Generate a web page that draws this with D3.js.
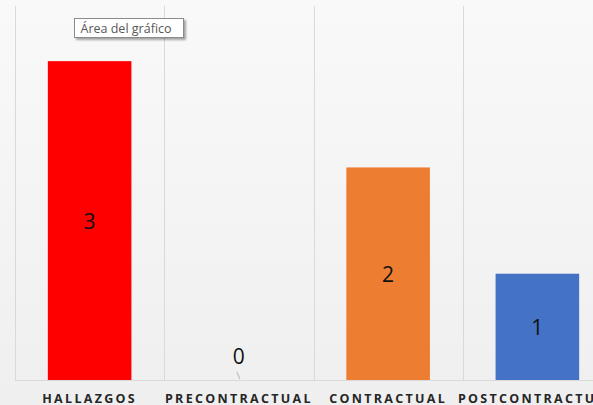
<!DOCTYPE html>
<html>
<head>
<meta charset="utf-8">
<script src="https://cdn.jsdelivr.net/npm/d3@7"></script>
<style>
  body { margin: 0; overflow: hidden; }
  svg { display: block; }
</style>
</head>
<body>
<div id="chart"></div>
<script>
// chart data
var categories = ["HALLAZGOS", "PRECONTRACTUAL", "CONTRACTUAL", "POSTCONTRACTUAL"];
var values = [3, 0, 2, 1];
var colors = ["#ff0000", "#a5a5a5", "#ed7d31", "#4472c4"];
var tooltipText = "Área del gráfico";

var W = 593, H = 405;

var svg = d3.select("#chart")
  .append("svg")
    .attr("width", W)
    .attr("height", H);

// background gradient
var grad = svg.append("defs").append("linearGradient")
    .attr("id", "bg")
    .attr("x1", 0).attr("y1", 0).attr("x2", 0).attr("y2", 1);
grad.append("stop").attr("offset", "0%").attr("stop-color", "#f9f9f9");
grad.append("stop").attr("offset", "100%").attr("stop-color", "#efefef");

var shadow = svg.select("defs").append("filter")
    .attr("id", "shadow")
    .attr("x", "-10%").attr("y", "-20%").attr("width", "130%").attr("height", "160%");
shadow.append("feDropShadow")
    .attr("dx", 2).attr("dy", 2).attr("stdDeviation", 1.2)
    .attr("flood-color", "#000").attr("flood-opacity", 0.35);

svg.append("rect")
    .attr("width", W)
    .attr("height", H)
    .attr("fill", "url(#bg)");

var x = d3.scaleBand()
    .domain(categories)
    .range([15, 612])
    .paddingInner(0.44)
    .paddingOuter(0.22);

var y = d3.scaleLinear()
    .domain([0, 3.5])
    .range([380, 8]);

// vertical separators between categories
var step = x.step();
var bounds = categories.map(function(c) { return x(c) - x.paddingOuter() * step; });
svg.append("g")
  .selectAll("line")
  .data(bounds)
  .enter()
  .append("line")
    .attr("x1", function(d) { return Math.round(d) + 0.5; })
    .attr("x2", function(d) { return Math.round(d) + 0.5; })
    .attr("y1", 6)
    .attr("y2", 380)
    .attr("stroke", "#d9d9d9")
    .attr("stroke-width", 1);

// baseline
svg.append("line")
    .attr("x1", 15)
    .attr("x2", W)
    .attr("y1", 380.5)
    .attr("y2", 380.5)
    .attr("stroke", "#d9d9d9")
    .attr("stroke-width", 1);

// bars
svg.append("g")
  .selectAll("rect")
  .data(values)
  .enter()
  .append("rect")
    .attr("x", function(d, i) { return x(categories[i]); })
    .attr("y", function(d) { return y(d); })
    .attr("width", x.bandwidth())
    .attr("height", function(d) { return y(0) - y(d); })
    .attr("fill", function(d, i) { return colors[i]; });

// value labels
svg.append("g")
  .selectAll("text")
  .data(values)
  .enter()
  .append("text")
    .attr("x", function(d, i) { return x(categories[i]) + x.bandwidth() / 2; })
    .attr("y", function(d) { return d > 0 ? (y(d) + y(0)) / 2 + 8 : y(0) - 16; })
    .attr("text-anchor", "middle")
    .style("font-family", "'Open Sans', 'DejaVu Sans', sans-serif")
    .style("font-size", "21px")
    .style("fill", "#111111")
    .text(function(d) { return d; });

// little leader line for zero label
values.forEach(function(d, i) {
  if (d === 0) {
    var cx = x(categories[i]) + x.bandwidth() / 2;
    svg.append("line")
        .attr("x1", cx - 2)
        .attr("y1", y(0) - 8)
        .attr("x2", cx + 1)
        .attr("y2", y(0) - 1)
        .attr("stroke", "#bfbfbf")
        .attr("stroke-width", 1.2);
  }
});

// category labels
svg.append("g")
  .selectAll("text")
  .data(categories)
  .enter()
  .append("text")
    .attr("x", function(d) { return x(d) + x.bandwidth() / 2; })
    .attr("y", 402.5)
    .attr("text-anchor", "middle")
    .style("font-family", "'Open Sans', 'DejaVu Sans', sans-serif")
    .style("font-size", "12.5px")
    .style("font-weight", "bold")
    .style("letter-spacing", "2.3px")
    .style("fill", "#262626")
    .text(function(d) { return d; });

// chart area tooltip
var tip = svg.append("g").attr("transform", "translate(74.5,18.5)");
tip.append("rect")
    .attr("width", 109)
    .attr("height", 19)
    .attr("fill", "#ffffff")
    .attr("stroke", "#8c8c8c")
    .attr("stroke-width", 1)
    .attr("filter", "url(#shadow)");
tip.append("text")
    .attr("x", 6)
    .attr("y", 14)
    .style("font-family", "'Open Sans', 'DejaVu Sans', sans-serif")
    .style("font-size", "12.5px")
    .style("fill", "#575757")
    .text(tooltipText);
</script>
</body>
</html>
